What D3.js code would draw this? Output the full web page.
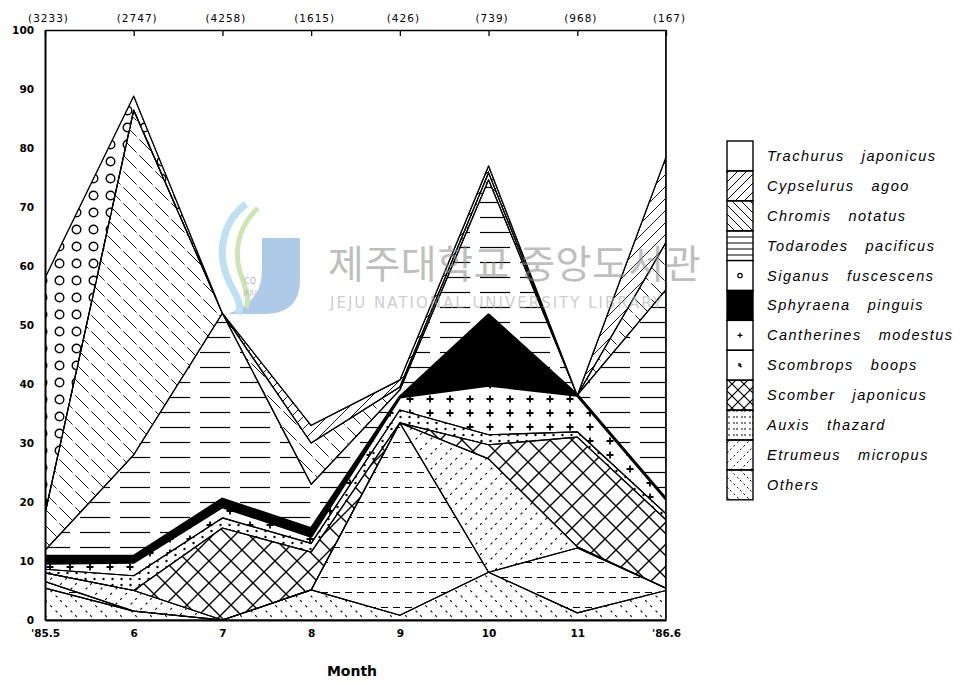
<!DOCTYPE html>
<html lang="en">
<meta charset="utf-8">
<script src="https://d3js.org/d3.v7.min.js"></script>
<style>
  body { margin: 0; background: #fff; }
  text { font-family: "DejaVu Sans", "Liberation Sans", sans-serif; }
</style>
<body>
<div id="chart"></div>
<script>
// months on the x axis and number of fish caught (top labels)
var months = ["'85.5", "6", "7", "8", "9", "10", "11", "'86.6"];
var totals = ["(3233)", "(2747)", "(4258)", "(1615)", "(426)", "(739)", "(968)", "(167)"];
var yTicks = [0, 10, 20, 30, 40, 50, 60, 70, 80, 90, 100];

// percent composition per month
var trachurus   = [42.0, 11.2, 48.0, 67.0, 59.3, 23.0, 61.9, 21.5];
var cypselurus  = [ 0.0,  0.0,  0.0,  3.0,  1.2,  1.2,  0.0, 14.5];
var chromis     = [ 6.2, 58.4,  0.0,  7.0,  0.5,  1.2,  0.0,  8.0];
var todarodes   = [ 1.0, 17.2, 31.5,  7.5,  1.2, 22.9,  0.0, 35.5];
var siganus     = [40.0,  2.4,  0.0,  0.0,  0.0,  0.0,  0.0,  0.0];
var sphyraena   = [ 1.2,  1.0,  1.3,  1.3,  0.0, 11.9,  0.0,  0.0];
var cantherines = [ 1.0,  2.3,  1.9,  1.2,  2.2,  8.4,  6.2,  2.5];
var scombrops   = [ 0.6,  2.5,  1.7,  1.5,  2.2,  1.7,  0.9,  1.0];
var scomber     = [ 0.0,  0.0, 15.6,  6.4,  0.0,  2.4, 18.6, 11.6];
var auxis       = [ 1.1,  0.0,  0.0,  0.0, 32.6,  0.0, 11.0,  0.4];
var etrumeus    = [ 1.5,  3.5,  0.0,  0.0,  0.0, 19.2,  0.2,  0.0];
var others      = [ 5.4,  1.5,  0.0,  5.1,  0.8,  8.1,  1.2,  5.0];

var series = {
  trachurus: trachurus, cypselurus: cypselurus, chromis: chromis, todarodes: todarodes,
  siganus: siganus, sphyraena: sphyraena, cantherines: cantherines, scombrops: scombrops,
  scomber: scomber, auxis: auxis, etrumeus: etrumeus, others: others
};

// legend, top to bottom
var legendKeys = ["trachurus", "cypselurus", "chromis", "todarodes", "siganus", "sphyraena",
                  "cantherines", "scombrops", "scomber", "auxis", "etrumeus", "others"];
var legendGenus = ["Trachurus", "Cypselurus", "Chromis", "Todarodes", "Siganus", "Sphyraena",
                   "Cantherines", "Scombrops", "Scomber", "Auxis", "Etrumeus", "Others"];
var legendSpecies = ["japonicus", "agoo", "notatus", "pacificus", "fuscescens", "pinguis",
                     "modestus", "boops", "japonicus", "thazard", "micropus", ""];

// order the bands are piled up in the drawing (bottom first)
var stackOrder = ["others", "auxis", "etrumeus", "scomber", "scombrops", "cantherines",
                  "sphyraena", "todarodes", "chromis", "cypselurus", "siganus", "trachurus"];

var width = 963, height = 682;
var svg = d3.select("#chart").append("svg")
    .attr("width", width)
    .attr("height", height);

var x = d3.scalePoint().domain(months).range([45, 666]);
var y = d3.scaleLinear().domain([0, 100]).range([620, 30]);

// ---- fill patterns ----
var defs = svg.append("defs");

function pattern(id, w, h) {
  return defs.append("pattern")
      .attr("id", id)
      .attr("patternUnits", "userSpaceOnUse")
      .attr("width", w)
      .attr("height", h);
}
function diag(id, s, dir, dash, sw) {
  var p = pattern(id, s, s);
  var d = dir > 0
    ? "M0," + s + " L" + s + ",0 M" + (-s) + "," + s + " L" + s + "," + (-s) + " M0," + (2 * s) + " L" + (2 * s) + ",0"
    : "M0,0 L" + s + "," + s + " M" + (-s) + ",0 L" + s + "," + (2 * s) + " M0," + (-s) + " L" + (2 * s) + "," + s;
  p.append("path").attr("d", d)
      .attr("stroke", "#000").attr("stroke-width", sw || 1).attr("fill", "none")
      .attr("stroke-dasharray", dash || null);
}
function horiz(id, w, h, dash, sw) {
  var p = pattern(id, w, h);
  p.append("path").attr("d", "M0," + (h / 2) + " H" + w)
      .attr("stroke", "#000").attr("stroke-width", sw || 1)
      .attr("stroke-dasharray", dash || null);
}
function cross(id, s, sw) {
  var p = pattern(id, s, s);
  p.append("path").attr("d", "M0,0 L" + s + "," + s + " M" + s + ",0 L0," + s)
      .attr("stroke", "#000").attr("stroke-width", sw).attr("fill", "none");
}

// chart versions
diag("p-cypselurus", 12, 1, null, 0.9);
diag("p-chromis", 16, -1, "12 4", 0.9);
horiz("p-todarodes", 40, 15, "30 10", 1.2);
(function () {
  var p = pattern("p-siganus", 17, 17);
  p.append("circle").attr("cx", 8.5).attr("cy", 8.5).attr("r", 4.3)
      .attr("fill", "#fff").attr("stroke", "#000").attr("stroke-width", 1.4);
})();
(function () {
  var p = pattern("p-cantherines", 20, 14);
  p.append("path").attr("d", "M10,3.5 V10.5 M6.5,7 H13.5")
      .attr("stroke", "#000").attr("stroke-width", 1.8);
})();
(function () {
  var p = pattern("p-scombrops", 9, 6);
  p.append("circle").attr("cx", 4.5).attr("cy", 3).attr("r", 1.2).attr("fill", "#000");
})();
cross("p-scomber", 22, 1.4);
horiz("p-auxis", 12, 15, "4 5", 1.1);
diag("p-etrumeus", 15, 1, "2.5 5", 1.1);
diag("p-others", 15, -1, "2.5 5", 1.1);

// legend versions (finer spacing)
diag("l-cypselurus", 9, 1, null, 1);
diag("l-chromis", 9, -1, null, 1);
horiz("l-todarodes", 10, 6, null, 1);
cross("l-scomber", 12, 1.2);
horiz("l-auxis", 8, 6, "2 3", 1);
diag("l-etrumeus", 10, 1, "2 3", 1);
diag("l-others", 10, -1, "2 3", 1);

// ---- stacked areas ----
var rows = months.map(function (m, i) {
  var r = { month: m };
  stackOrder.forEach(function (k) { r[k] = series[k][i]; });
  return r;
});
var stacked = d3.stack().keys(stackOrder)(rows);

var area = d3.area()
    .x(function (d) { return x(d.data.month); })
    .y0(function (d) { return y(d[0]); })
    .y1(function (d) { return y(d[1]); });

svg.append("clipPath").attr("id", "plot-clip")
  .append("rect").attr("x", 45).attr("y", 30).attr("width", 621).attr("height", 590);

var plot = svg.append("g").attr("clip-path", "url(#plot-clip)");

plot.selectAll("path.band")
  .data(stacked)
  .enter().append("path")
    .attr("class", "band")
    .attr("d", area)
    .attr("fill", function (d) {
      if (d.key === "sphyraena") return "#000";
      if (d.key === "trachurus") return "#fff";
      return "url(#p-" + d.key + ")";
    })
    .attr("stroke", "#000")
    .attr("stroke-linejoin", "round")
    .attr("stroke-width", function (d) { return d.key === "sphyraena" ? 3 : 1.2; });

// ---- axes ----
var axisFont = "DejaVu Sans";

var leftAxis = svg.append("g")
    .attr("transform", "translate(45,0)")
    .call(d3.axisLeft(y).tickValues(yTicks).tickSize(0).tickPadding(11));
leftAxis.select(".domain").attr("stroke-width", 2);
leftAxis.selectAll("text")
    .style("font-family", axisFont).style("font-size", "10.5px").style("font-weight", "bold");

var bottomAxis = svg.append("g")
    .attr("transform", "translate(0,620)")
    .call(d3.axisBottom(x).tickSize(0).tickPadding(10));
bottomAxis.select(".domain").attr("stroke-width", 2);
bottomAxis.selectAll("text")
    .style("font-family", axisFont).style("font-size", "10.5px").style("font-weight", "bold");

var topAxis = svg.append("g")
    .attr("transform", "translate(0,30)")
    .call(d3.axisTop(x).tickSize(-6).tickSizeOuter(0).tickPadding(8)
      .tickFormat(function (m, i) { return totals[i]; }));
topAxis.select(".domain").attr("stroke-width", 1.6);
topAxis.selectAll(".tick line").attr("stroke-width", 1.3);
topAxis.selectAll("text")
    .attr("dx", 3)
    .style("font-family", axisFont).style("font-size", "10.5px").style("letter-spacing", "1px");

svg.append("line")
    .attr("x1", 666).attr("x2", 666).attr("y1", 30).attr("y2", 620)
    .attr("stroke", "#000").attr("stroke-width", 1.6);

svg.append("text")
    .attr("x", 352).attr("y", 676)
    .attr("text-anchor", "middle")
    .style("font-family", axisFont).style("font-size", "14px").style("font-weight", "bold")
    .text("Month");

// ---- legend ----
var lx = 727, ly = 141, lw = 26, lh = 29.9;
var legend = svg.append("g");
legendKeys.forEach(function (k, i) {
  var yy = ly + i * lh;
  var fill = "#fff";
  if (k === "sphyraena") fill = "#000";
  else if (["cypselurus", "chromis", "todarodes", "scomber", "auxis", "etrumeus", "others"].indexOf(k) >= 0)
    fill = "url(#l-" + k + ")";
  legend.append("rect")
      .attr("x", lx).attr("y", yy).attr("width", lw).attr("height", lh)
      .attr("fill", fill).attr("stroke", "#000").attr("stroke-width", 1.4);
  var cx = lx + lw / 2, cy = yy + lh / 2;
  if (k === "siganus") {
    legend.append("circle").attr("cx", cx).attr("cy", cy).attr("r", 2.2)
        .attr("fill", "none").attr("stroke", "#000").attr("stroke-width", 1.2);
  } else if (k === "cantherines") {
    legend.append("path").attr("d", "M" + cx + "," + (cy - 2.5) + " V" + (cy + 2.5) + " M" + (cx - 2.5) + "," + cy + " H" + (cx + 2.5))
        .attr("stroke", "#000").attr("stroke-width", 1.2);
  } else if (k === "scombrops") {
    legend.append("path").attr("d", "M" + (cx - 1.5) + "," + (cy - 2) + " L" + (cx + 1.5) + "," + (cy + 2) + " M" + (cx - 1.5) + "," + (cy + 1) + " L" + (cx + 1) + "," + (cy - 1.5))
        .attr("stroke", "#000").attr("stroke-width", 1.3);
  }
  var t = legend.append("text")
      .attr("x", 767).attr("y", cy + 5)
      .style("font-family", "Liberation Sans")
      .style("font-style", "italic")
      .style("font-size", "14.5px")
      .style("letter-spacing", "1.5px");
  t.append("tspan").text(legendGenus[i]);
  if (legendSpecies[i]) t.append("tspan").attr("dx", 17).text(legendSpecies[i]);
});

// ---- library watermark ----
var wm = svg.append("g").attr("opacity", 0.55);
wm.append("path")
    .attr("d", "M262,238 H300 V280 Q300,314 264,314 H228 Q248,306 256,294 Q262,284 262,268 Z")
    .attr("fill", "#6f9fd6");
wm.append("path")
    .attr("d", "M246,204 C222,222 218,252 226,274 C232,292 244,302 238,314")
    .attr("fill", "none").attr("stroke", "#8cc6e8").attr("stroke-width", 7);
wm.append("path")
    .attr("d", "M258,208 C238,226 234,252 240,272 C246,290 250,298 246,308")
    .attr("fill", "none").attr("stroke", "#a6cf7a").attr("stroke-width", 5);
wm.append("text").attr("x", 250).attr("y", 284).attr("text-anchor", "middle")
    .style("font-size", "8px").attr("fill", "#777").text("CQ");
wm.append("text").attr("x", 250).attr("y", 295).attr("text-anchor", "middle")
    .style("font-size", "7px").attr("fill", "#777").text("JEJU");
wm.append("text")
    .attr("x", 328).attr("y", 278)
    .attr("fill", "#8a8a8a")
    .style("font-family", "Noto Sans CJK KR")
    .style("font-size", "39px")
    .style("letter-spacing", "0.5px")
    .text("제주대학교 중앙도서관");
wm.append("text")
    .attr("x", 330).attr("y", 308)
    .attr("fill", "#a5a5a5")
    .style("font-family", "DejaVu Sans")
    .style("font-size", "15px")
    .style("letter-spacing", "2px")
    .text("JEJU NATIONAL UNIVERSITY LIBRARY");
</script>
</body>
</html>
